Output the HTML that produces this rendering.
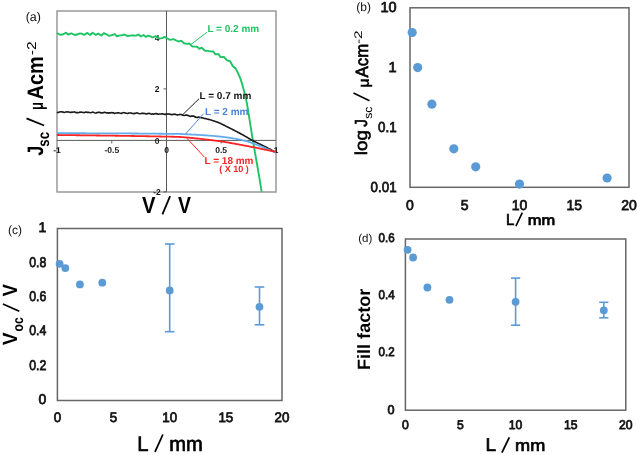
<!DOCTYPE html>
<html><head><meta charset="utf-8"><style>
html,body{margin:0;padding:0;background:#fff;width:637px;height:455px;overflow:hidden;position:relative;font-family:"Liberation Sans", sans-serif;}
</style></head><body>
<svg width="637" height="455" viewBox="0 0 637 455" style="position:absolute;left:0;top:0;filter:blur(0.3px)">
<g font-family='"Liberation Sans", sans-serif' text-rendering="geometricPrecision">
<rect x="57" y="11" width="219" height="181" fill="none" stroke="#929292" stroke-width="1.4"/>
<line x1="57" y1="140.4" x2="276" y2="140.4" stroke="#5a5a5a" stroke-width="1"/>
<line x1="166.5" y1="11" x2="166.5" y2="192" stroke="#5a5a5a" stroke-width="1"/>
<line x1="163.5" y1="37.4" x2="166.5" y2="37.4" stroke="#5a5a5a" stroke-width="1"/>
<line x1="163.5" y1="88.9" x2="166.5" y2="88.9" stroke="#5a5a5a" stroke-width="1"/>
<line x1="163.5" y1="191.9" x2="166.5" y2="191.9" stroke="#5a5a5a" stroke-width="1"/>
<line x1="111.8" y1="140.4" x2="111.8" y2="143.4" stroke="#5a5a5a" stroke-width="1"/>
<line x1="221.2" y1="140.4" x2="221.2" y2="143.4" stroke="#5a5a5a" stroke-width="1"/>
<text x="157.0" y="40.5" font-size="8.5" font-weight="bold" fill="#111" text-anchor="middle" >4</text>
<text x="157.0" y="92.0" font-size="8.5" font-weight="bold" fill="#111" text-anchor="middle" >2</text>
<text x="157.0" y="143.5" font-size="8.5" font-weight="bold" fill="#111" text-anchor="middle" >0</text>
<text x="157.0" y="195.0" font-size="8.5" font-weight="bold" fill="#111" text-anchor="middle" >-2</text>
<text x="57.0" y="153.2" font-size="8.5" font-weight="bold" fill="#111" text-anchor="middle" >-1</text>
<text x="111.8" y="153.2" font-size="8.5" font-weight="bold" fill="#111" text-anchor="middle" >-0.5</text>
<text x="166.5" y="153.2" font-size="8.5" font-weight="bold" fill="#111" text-anchor="middle" >0</text>
<text x="221.2" y="153.2" font-size="8.5" font-weight="bold" fill="#111" text-anchor="middle" >0.5</text>
<text x="276.0" y="153.2" font-size="8.5" font-weight="bold" fill="#111" text-anchor="middle" >1</text>
<path d="M57.00,33.00 L60.39,34.92 L63.27,34.22 L66.04,32.70 L68.18,34.49 L71.39,33.36 L74.86,35.00 L77.79,34.26 L79.81,33.40 L82.10,33.81 L84.14,34.89 L87.40,32.94 L90.15,34.95 L92.57,32.66 L95.83,34.89 L98.18,33.59 L101.33,35.50 L103.91,33.07 L105.91,34.03 L109.27,35.93 L111.87,35.07 L114.81,34.04 L116.94,36.24 L120.08,35.41 L122.45,35.22 L124.54,34.51 L127.38,35.94 L130.48,35.57 L133.44,35.54 L136.07,35.61 L138.48,34.49 L140.93,36.55 L143.52,34.95 L145.68,36.88 L148.06,35.58 L150.51,36.34 L152.64,37.49 L155.54,36.14 L158.98,38.43 L162.28,38.13 L164.51,36.94 L166.89,38.23 L170.00,39.86 L173.42,39.05 L176.05,40.27 L178.11,41.53 L181.17,40.80 L184.06,43.22 L187.14,43.88 L189.49,43.56 L192.41,46.63 L194.71,46.62 L197.12,46.76 L199.38,48.80 L201.58,47.68 L205.05,50.68 L207.93,50.84 L209.98,51.34 L213.35,51.52 L215.38,54.33 L218.47,54.06 L220.59,57.17 L223.94,57.00 L227.13,60.40 L230.15,61.26 L232.78,66.19 L235.64,68.37 L238.69,74.61 L238.92,75.10 L239.14,75.59 L239.37,76.08 L239.58,76.58 L239.79,77.09 L240.00,77.60 L240.17,78.04 L240.34,78.48 L240.50,78.92 L240.66,79.37 L240.81,79.82 L240.97,80.28 L241.12,80.74 L241.26,81.20 L241.41,81.67 L241.56,82.15 L241.70,82.63 L241.84,83.12 L241.99,83.61 L242.13,84.10 L242.27,84.60 L242.41,85.11 L242.56,85.62 L242.70,86.14 L242.85,86.67 L243.00,87.20 L243.13,87.65 L243.25,88.11 L243.38,88.58 L243.51,89.05 L243.64,89.53 L243.77,90.01 L243.91,90.50 L244.04,91.00 L244.17,91.50 L244.30,92.00 L244.43,92.51 L244.56,93.01 L244.69,93.52 L244.82,94.03 L244.95,94.54 L245.07,95.04 L245.20,95.55 L245.32,96.05 L245.44,96.56 L245.56,97.05 L245.67,97.55 L245.79,98.04 L245.89,98.52 L246.00,99.00 L246.11,99.50 L246.21,99.96 L246.30,100.38 L246.39,100.79 L246.46,101.17 L246.54,101.53 L246.61,101.89 L246.68,102.24 L246.75,102.60 L246.81,102.96 L246.88,103.34 L246.95,103.73 L247.02,104.15 L247.10,104.61 L247.18,105.09 L247.27,105.62 L247.37,106.20 L247.47,106.83 L247.59,107.52 L247.71,108.27 L247.85,109.10 L248.00,110.00 L248.06,110.34 L248.12,110.70 L248.18,111.06 L248.24,111.43 L248.30,111.81 L248.36,112.20 L248.43,112.59 L248.49,113.00 L248.56,113.41 L248.62,113.82 L248.69,114.25 L248.76,114.68 L248.83,115.12 L248.90,115.57 L248.98,116.02 L249.05,116.48 L249.12,116.95 L249.20,117.42 L249.28,117.90 L249.35,118.38 L249.43,118.87 L249.51,119.36 L249.59,119.86 L249.67,120.36 L249.75,120.87 L249.83,121.38 L249.91,121.89 L249.99,122.41 L250.07,122.93 L250.16,123.46 L250.24,123.99 L250.33,124.52 L250.41,125.06 L250.50,125.60 L250.58,126.14 L250.67,126.68 L250.76,127.22 L250.84,127.77 L250.93,128.32 L251.02,128.87 L251.11,129.42 L251.20,129.97 L251.28,130.53 L251.37,131.08 L251.46,131.63 L251.55,132.19 L251.64,132.74 L251.73,133.30 L251.82,133.85 L251.91,134.41 L252.00,134.96 L252.09,135.51 L252.18,136.06 L252.27,136.61 L252.36,137.16 L252.45,137.70 L252.54,138.25 L252.63,138.79 L252.72,139.33 L252.81,139.87 L252.90,140.40 L252.98,140.87 L253.06,141.34 L253.14,141.82 L253.22,142.30 L253.30,142.78 L253.39,143.27 L253.47,143.77 L253.55,144.27 L253.64,144.77 L253.73,145.28 L253.81,145.79 L253.90,146.30 L253.99,146.81 L254.08,147.33 L254.17,147.85 L254.26,148.38 L254.35,148.90 L254.44,149.43 L254.54,149.96 L254.63,150.49 L254.72,151.03 L254.81,151.56 L254.91,152.10 L255.00,152.63 L255.09,153.17 L255.19,153.71 L255.28,154.24 L255.37,154.78 L255.47,155.32 L255.56,155.86 L255.66,156.40 L255.75,156.93 L255.84,157.47 L255.94,158.00 L256.03,158.54 L256.12,159.07 L256.22,159.60 L256.31,160.13 L256.40,160.66 L256.49,161.18 L256.59,161.71 L256.68,162.23 L256.77,162.74 L256.86,163.26 L256.95,163.77 L257.04,164.28 L257.13,164.78 L257.21,165.28 L257.30,165.78 L257.39,166.27 L257.47,166.76 L257.56,167.25 L257.64,167.73 L257.72,168.20 L257.81,168.67 L257.89,169.14 L257.97,169.60 L258.05,170.05 L258.12,170.50 L258.20,170.94 L258.28,171.38 L258.35,171.81 L258.42,172.23 L258.50,172.65 L258.57,173.06 L258.64,173.46 L258.70,173.86 L258.77,174.25 L258.84,174.63 L258.90,175.00 L259.03,175.75 L259.15,176.49 L259.27,177.21 L259.39,177.91 L259.51,178.60 L259.62,179.27 L259.73,179.93 L259.84,180.57 L259.94,181.20 L260.04,181.81 L260.14,182.40 L260.24,182.99 L260.33,183.55 L260.42,184.10 L260.51,184.64 L260.59,185.16 L260.67,185.66 L260.75,186.15 L260.83,186.63 L260.91,187.09 L260.98,187.53 L261.05,187.97 L261.11,188.38 L261.18,188.78 L261.24,189.17 L261.30,189.54 L261.36,189.90 L261.41,190.24 L261.47,190.57 L261.52,190.89 L261.57,191.19 L261.61,191.47 L261.66,191.74 L261.70,192.00" fill="none" stroke="#1ec463" stroke-width="1.9" stroke-linejoin="round"/>
<path d="M57.00,112.11 L57.42,112.45 L57.86,112.38 L58.33,112.43 L58.82,112.23 L59.34,111.99 L59.87,111.94 L60.43,111.79 L61.02,111.76 L61.62,111.72 L62.24,112.11 L62.88,111.89 L63.55,112.27 L64.23,112.42 L64.92,112.31 L65.64,112.01 L66.37,111.97 L67.12,111.75 L67.89,111.92 L68.67,111.93 L69.46,112.15 L70.27,112.57 L71.09,112.38 L71.92,112.07 L72.77,112.22 L73.63,112.02 L74.50,111.89 L75.38,112.22 L76.27,112.73 L77.17,112.42 L78.07,112.70 L78.99,112.42 L79.91,112.03 L80.84,112.25 L81.78,112.15 L82.72,112.40 L83.67,112.53 L84.62,112.66 L85.58,112.14 L86.54,111.98 L87.50,112.53 L88.46,112.39 L89.43,112.54 L90.40,112.71 L91.36,112.53 L92.33,112.15 L93.30,112.19 L94.26,112.63 L95.23,112.98 L96.19,112.97 L97.15,112.52 L98.10,112.35 L99.05,112.39 L100.00,112.42 L100.71,112.93 L101.43,112.91 L102.17,113.00 L102.91,112.73 L103.67,112.59 L104.43,112.20 L105.21,112.47 L105.99,112.64 L106.79,113.03 L107.59,112.84 L108.40,113.11 L109.22,112.86 L110.05,113.10 L110.88,112.76 L111.72,112.59 L112.57,112.85 L113.42,112.77 L114.28,113.33 L115.15,113.24 L116.01,113.04 L116.89,112.97 L117.76,112.71 L118.64,112.86 L119.52,113.08 L120.41,113.26 L121.30,113.48 L122.19,112.98 L123.08,112.63 L123.97,112.75 L124.86,112.79 L125.75,113.18 L126.65,113.23 L127.54,113.46 L128.43,113.14 L129.32,113.03 L130.21,113.04 L131.09,112.85 L131.97,113.46 L132.85,113.45 L133.73,113.76 L134.60,113.27 L135.47,113.35 L136.34,112.91 L137.19,112.98 L138.05,113.24 L138.89,113.51 L139.74,113.72 L140.57,113.59 L141.40,113.42 L142.22,113.34 L143.03,113.24 L143.83,113.36 L144.63,113.57 L145.42,113.66 L146.19,113.97 L146.96,113.91 L147.72,113.54 L148.46,113.55 L149.20,113.29 L149.92,113.47 L150.63,113.86 L151.33,114.21 L152.02,113.89 L152.69,113.96 L153.35,114.23 L153.99,113.86 L154.63,113.83 L155.24,113.70 L155.84,113.49 L156.43,113.93 L157.00,113.67 L158.38,114.26 L159.69,114.02 L160.92,114.02 L162.08,113.74 L163.17,114.01 L164.20,114.13 L165.18,114.54 L166.10,113.92 L166.97,114.20 L167.79,113.91 L168.58,114.06 L169.33,114.10 L170.04,114.34 L170.73,114.35 L171.40,114.44 L172.04,114.62 L172.67,114.40 L173.29,114.40 L173.90,114.29 L174.51,114.13 L175.12,114.41 L175.74,114.37 L176.36,114.75 L177.00,114.83 L177.66,114.89 L178.35,114.78 L179.06,114.82 L179.80,114.41 L180.68,114.51 L181.56,114.66 L182.44,114.89 L183.31,115.25 L184.17,115.58 L185.03,115.32 L185.89,115.02 L186.74,115.15 L187.58,115.35 L188.42,115.56 L189.25,116.13 L190.08,116.34 L190.90,116.38 L191.72,116.01 L192.53,116.14 L193.33,116.11 L194.13,116.25 L194.91,116.87 L195.70,117.13 L196.47,117.35 L197.24,117.18 L198.00,117.36 L198.75,117.10 L199.50,117.25 L200.38,117.57 L201.25,117.73 L202.11,117.90 L202.96,118.07 L203.79,118.25 L204.62,118.42 L205.43,118.60 L206.23,118.78 L207.03,118.97 L207.82,119.16 L208.60,119.36 L209.37,119.56 L210.14,119.77 L210.90,119.98 L211.66,120.20 L212.42,120.42 L213.17,120.66 L213.91,120.90 L214.66,121.14 L215.40,121.40 L216.18,121.68 L216.94,121.97 L217.70,122.27 L218.44,122.58 L219.18,122.89 L219.91,123.22 L220.64,123.55 L221.36,123.88 L222.07,124.23 L222.79,124.57 L223.50,124.93 L224.21,125.28 L224.91,125.64 L225.62,126.00 L226.33,126.36 L227.04,126.72 L227.76,127.08 L228.48,127.44 L229.20,127.80 L229.93,128.16 L230.67,128.53 L231.42,128.91 L232.17,129.29 L232.93,129.68 L233.69,130.07 L234.45,130.46 L235.21,130.85 L235.97,131.25 L236.72,131.64 L237.46,132.03 L238.20,132.42 L238.93,132.81 L239.65,133.19 L240.35,133.57 L241.04,133.94 L241.71,134.30 L242.37,134.66 L243.00,135.00 L243.82,135.45 L244.60,135.89 L245.34,136.32 L246.05,136.73 L246.74,137.14 L247.41,137.54 L248.07,137.94 L248.72,138.33 L249.38,138.72 L250.04,139.11 L250.72,139.50 L251.41,139.89 L252.14,140.29 L252.90,140.70 L253.59,141.06 L254.30,141.42 L255.02,141.78 L255.76,142.15 L256.50,142.51 L257.26,142.87 L258.02,143.24 L258.79,143.60 L259.56,143.96 L260.32,144.33 L261.09,144.69 L261.85,145.05 L262.60,145.42 L263.35,145.78 L264.08,146.14 L264.80,146.50 L265.58,146.89 L266.39,147.31 L267.22,147.74 L268.06,148.18 L268.91,148.62 L269.76,149.06 L270.59,149.50 L271.39,149.92 L272.17,150.34 L272.91,150.73 L273.60,151.09 L274.23,151.43 L274.80,151.73 L275.29,151.99 L275.70,152.20" fill="none" stroke="#1a1a1a" stroke-width="1.6" stroke-linejoin="round"/>
<path d="M57.00,133.20 L57.52,133.20 L58.07,133.20 L58.66,133.20 L59.28,133.21 L59.93,133.21 L60.62,133.21 L61.33,133.21 L62.08,133.21 L62.85,133.22 L63.65,133.22 L64.48,133.22 L65.33,133.22 L66.21,133.22 L67.11,133.23 L68.03,133.23 L68.98,133.23 L69.95,133.23 L70.93,133.24 L71.94,133.24 L72.96,133.24 L74.00,133.24 L75.06,133.25 L76.13,133.25 L77.21,133.25 L78.31,133.26 L79.42,133.26 L80.54,133.26 L81.67,133.26 L82.81,133.27 L83.95,133.27 L85.11,133.27 L86.27,133.28 L87.43,133.28 L88.60,133.28 L89.78,133.29 L90.95,133.29 L92.13,133.29 L93.31,133.30 L94.48,133.30 L95.66,133.30 L96.83,133.31 L98.00,133.31 L99.16,133.31 L100.32,133.32 L101.48,133.32 L102.62,133.33 L103.76,133.33 L104.88,133.33 L106.00,133.34 L107.11,133.34 L108.20,133.35 L109.28,133.35 L110.34,133.35 L111.39,133.36 L112.43,133.36 L113.44,133.37 L114.44,133.37 L115.42,133.38 L116.38,133.38 L117.32,133.39 L118.24,133.39 L119.13,133.40 L120.00,133.40 L121.20,133.41 L122.39,133.41 L123.57,133.42 L124.75,133.43 L125.92,133.44 L127.09,133.44 L128.25,133.45 L129.40,133.46 L130.54,133.47 L131.68,133.48 L132.80,133.48 L133.92,133.49 L135.04,133.50 L136.14,133.51 L137.23,133.52 L138.32,133.53 L139.40,133.54 L140.46,133.55 L141.52,133.55 L142.57,133.56 L143.61,133.57 L144.63,133.58 L145.65,133.59 L146.66,133.60 L147.65,133.61 L148.64,133.62 L149.61,133.63 L150.58,133.64 L151.53,133.65 L152.47,133.66 L153.39,133.67 L154.31,133.68 L155.21,133.69 L156.10,133.70 L156.98,133.71 L157.84,133.72 L158.69,133.73 L159.53,133.74 L160.36,133.75 L161.17,133.75 L161.96,133.76 L162.74,133.77 L163.51,133.78 L164.26,133.79 L165.00,133.80 L166.57,133.82 L168.00,133.83 L169.30,133.84 L170.49,133.85 L171.58,133.86 L172.59,133.86 L173.53,133.86 L174.41,133.87 L175.25,133.87 L176.06,133.88 L176.86,133.89 L177.66,133.90 L178.47,133.92 L179.31,133.94 L180.19,133.97 L181.12,134.00 L182.13,134.04 L183.22,134.08 L184.40,134.14 L185.70,134.20 L186.54,134.24 L187.41,134.29 L188.31,134.33 L189.23,134.38 L190.18,134.43 L191.16,134.48 L192.15,134.54 L193.17,134.59 L194.20,134.65 L195.25,134.71 L196.31,134.77 L197.38,134.83 L198.47,134.90 L199.56,134.96 L200.66,135.03 L201.76,135.10 L202.86,135.17 L203.97,135.25 L205.07,135.32 L206.17,135.40 L207.27,135.47 L208.36,135.55 L209.43,135.63 L210.50,135.71 L211.56,135.80 L212.60,135.88 L213.62,135.96 L214.62,136.05 L215.61,136.14 L216.57,136.23 L217.51,136.32 L218.42,136.41 L219.30,136.50 L220.48,136.63 L221.65,136.76 L222.79,136.89 L223.91,137.03 L225.02,137.17 L226.10,137.31 L227.17,137.45 L228.22,137.60 L229.26,137.75 L230.27,137.90 L231.27,138.06 L232.26,138.21 L233.23,138.37 L234.18,138.53 L235.12,138.70 L236.04,138.87 L236.96,139.04 L237.86,139.21 L238.74,139.38 L239.62,139.56 L240.48,139.74 L241.33,139.93 L242.17,140.11 L243.00,140.30 L244.21,140.59 L245.35,140.88 L246.45,141.18 L247.50,141.48 L248.51,141.79 L249.49,142.10 L250.45,142.42 L251.38,142.75 L252.30,143.08 L253.21,143.42 L254.13,143.77 L255.04,144.12 L255.97,144.48 L256.92,144.85 L257.90,145.22 L258.90,145.60 L259.84,145.96 L260.82,146.34 L261.84,146.75 L262.90,147.18 L263.97,147.62 L265.06,148.07 L266.14,148.52 L267.23,148.98 L268.29,149.43 L269.34,149.88 L270.35,150.31 L271.31,150.72 L272.23,151.12 L273.08,151.48 L273.86,151.82 L274.57,152.12 L275.18,152.38 L275.70,152.60" fill="none" stroke="#62acec" stroke-width="1.8"/>
<path d="M57.00,135.00 L57.52,135.01 L58.07,135.01 L58.66,135.02 L59.28,135.03 L59.93,135.04 L60.62,135.05 L61.33,135.05 L62.08,135.06 L62.85,135.07 L63.65,135.08 L64.48,135.09 L65.33,135.10 L66.21,135.11 L67.11,135.12 L68.03,135.14 L68.98,135.15 L69.95,135.16 L70.93,135.17 L71.94,135.18 L72.96,135.19 L74.00,135.21 L75.06,135.22 L76.13,135.23 L77.21,135.25 L78.31,135.26 L79.42,135.27 L80.54,135.29 L81.67,135.30 L82.81,135.31 L83.95,135.33 L85.11,135.34 L86.27,135.36 L87.43,135.37 L88.60,135.39 L89.78,135.40 L90.95,135.42 L92.13,135.43 L93.31,135.44 L94.48,135.46 L95.66,135.47 L96.83,135.49 L98.00,135.50 L99.16,135.52 L100.32,135.53 L101.48,135.55 L102.62,135.56 L103.76,135.58 L104.88,135.59 L106.00,135.61 L107.11,135.62 L108.20,135.64 L109.28,135.65 L110.34,135.66 L111.39,135.68 L112.43,135.69 L113.44,135.71 L114.44,135.72 L115.42,135.73 L116.38,135.75 L117.32,135.76 L118.24,135.77 L119.13,135.79 L120.00,135.80 L121.20,135.82 L122.39,135.84 L123.57,135.85 L124.75,135.87 L125.92,135.89 L127.09,135.91 L128.25,135.92 L129.40,135.94 L130.54,135.96 L131.68,135.98 L132.80,136.00 L133.92,136.01 L135.04,136.03 L136.14,136.05 L137.23,136.07 L138.32,136.08 L139.40,136.10 L140.46,136.12 L141.52,136.14 L142.57,136.16 L143.61,136.17 L144.63,136.19 L145.65,136.21 L146.66,136.23 L147.65,136.24 L148.64,136.26 L149.61,136.28 L150.58,136.30 L151.53,136.32 L152.47,136.33 L153.39,136.35 L154.31,136.37 L155.21,136.39 L156.10,136.40 L156.98,136.42 L157.84,136.44 L158.69,136.46 L159.53,136.48 L160.36,136.49 L161.17,136.51 L161.96,136.53 L162.74,136.55 L163.51,136.56 L164.26,136.58 L165.00,136.60 L166.57,136.64 L168.00,136.67 L169.30,136.69 L170.49,136.71 L171.58,136.73 L172.59,136.75 L173.53,136.76 L174.41,136.78 L175.25,136.79 L176.06,136.81 L176.86,136.84 L177.66,136.86 L178.47,136.90 L179.31,136.94 L180.19,136.99 L181.12,137.05 L182.13,137.12 L183.22,137.20 L184.40,137.29 L185.70,137.40 L186.54,137.47 L187.40,137.55 L188.28,137.63 L189.19,137.71 L190.13,137.80 L191.08,137.89 L192.05,137.98 L193.03,138.08 L194.04,138.18 L195.06,138.29 L196.09,138.39 L197.13,138.50 L198.19,138.61 L199.25,138.73 L200.32,138.85 L201.40,138.96 L202.48,139.09 L203.56,139.21 L204.65,139.33 L205.74,139.46 L206.83,139.59 L207.91,139.72 L208.99,139.85 L210.07,139.98 L211.14,140.11 L212.20,140.25 L213.25,140.38 L214.30,140.52 L215.33,140.65 L216.34,140.79 L217.35,140.93 L218.33,141.06 L219.30,141.20 L220.35,141.35 L221.40,141.51 L222.44,141.66 L223.48,141.82 L224.51,141.98 L225.54,142.15 L226.56,142.31 L227.58,142.48 L228.59,142.65 L229.60,142.82 L230.60,143.00 L231.60,143.17 L232.60,143.35 L233.59,143.52 L234.58,143.70 L235.57,143.88 L236.55,144.06 L237.52,144.24 L238.50,144.42 L239.47,144.60 L240.43,144.78 L241.40,144.96 L242.36,145.14 L243.31,145.32 L244.27,145.51 L245.22,145.69 L246.17,145.87 L247.12,146.04 L248.06,146.22 L249.00,146.40 L250.06,146.60 L251.14,146.81 L252.24,147.02 L253.37,147.24 L254.50,147.46 L255.65,147.69 L256.80,147.92 L257.96,148.15 L259.11,148.39 L260.26,148.62 L261.41,148.85 L262.54,149.08 L263.65,149.31 L264.75,149.54 L265.83,149.76 L266.88,149.98 L267.90,150.19 L268.89,150.39 L269.84,150.59 L270.75,150.78 L271.62,150.96 L272.44,151.13 L273.21,151.29 L273.92,151.44 L274.58,151.57 L275.17,151.69 L275.70,151.80" fill="none" stroke="#fa2424" stroke-width="1.8"/>
<line x1="190.6" y1="44.7" x2="206.9" y2="32.3" stroke="#1ec463" stroke-width="1"/>
<text x="207.4" y="31.8" font-size="10" font-weight="bold" fill="#1ec463" text-anchor="start" >L = 0.2 mm</text>
<line x1="182.7" y1="114.7" x2="199" y2="98.8" stroke="#1a1a1a" stroke-width="1"/>
<text x="199.5" y="99.0" font-size="10" font-weight="bold" fill="#111" text-anchor="start" >L = 0.7 mm</text>
<line x1="185.7" y1="133.8" x2="203.5" y2="113.7" stroke="#4a86dc" stroke-width="1"/>
<text x="205.0" y="115.4" font-size="10" font-weight="bold" fill="#4a80d8" text-anchor="start" >L = 2 mm</text>
<line x1="186.7" y1="138" x2="204.5" y2="157.2" stroke="#fa2424" stroke-width="1"/>
<text x="204.5" y="164.2" font-size="10" font-weight="bold" fill="#fa2424" text-anchor="start" >L = 18 mm</text>
<text x="234.0" y="172.3" font-size="9" font-weight="bold" fill="#fa2424" text-anchor="middle" >( X 10 )</text>
<text x="33.3" y="21.4" font-size="12.5" font-weight="normal" fill="#111" text-anchor="middle" >(a)</text>
<text transform="translate(141.96,212.90) scale(0.874,1)" font-size="23.11" font-weight="bold" fill="#000">V</text>
<line x1="162.4" y1="214.3" x2="170.1" y2="196.1" stroke="#000" stroke-width="1.8"/>
<text transform="translate(177.97,212.90) scale(0.841,1)" font-size="23.11" font-weight="bold" fill="#000">V</text>
<text transform="translate(43.08,155.67) rotate(-90) scale(0.804,1)" font-size="22.36" font-weight="bold" fill="#000">J</text>
<text transform="translate(48.55,146.67) rotate(-90) scale(0.836,1)" font-size="15.87" font-weight="bold" fill="#000">sc</text>
<line x1="44.1" y1="125.5" x2="26.5" y2="118.4" stroke="#000" stroke-width="1.8"/>
<text transform="translate(43.11,110.12) rotate(-90) scale(0.682,1)" font-size="19.14" font-weight="bold" fill="#000">μ</text>
<text transform="translate(43.08,99.50) rotate(-90) scale(0.892,1)" font-size="22.36" font-weight="bold" fill="#000">Acm</text>
<text transform="translate(36.00,55.19) rotate(-90) scale(1.201,1)" font-size="12.89" font-weight="normal" fill="#000">-2</text>
<rect x="410" y="7.8" width="219" height="179.5" fill="none" stroke="#666" stroke-width="1.5"/>
<text transform="translate(396.60,12.00) scale(1.000,1)" font-size="14.50" font-weight="normal" fill="#111" text-anchor="end" stroke="#111" stroke-width="0.75">10</text>
<text transform="translate(396.60,72.00) scale(1.000,1)" font-size="14.50" font-weight="normal" fill="#111" text-anchor="end" stroke="#111" stroke-width="0.75">1</text>
<text transform="translate(396.60,132.00) scale(0.920,1)" font-size="14.50" font-weight="normal" fill="#111" text-anchor="end" stroke="#111" stroke-width="0.75">0.1</text>
<text transform="translate(396.60,192.00) scale(0.920,1)" font-size="14.50" font-weight="normal" fill="#111" text-anchor="end" stroke="#111" stroke-width="0.75">0.01</text>
<text transform="translate(410.00,210.00) scale(0.980,1)" font-size="14.30" font-weight="normal" fill="#111" text-anchor="middle" stroke="#111" stroke-width="0.75">0</text>
<text transform="translate(464.75,210.00) scale(0.980,1)" font-size="14.30" font-weight="normal" fill="#111" text-anchor="middle" stroke="#111" stroke-width="0.75">5</text>
<text transform="translate(519.50,210.00) scale(0.980,1)" font-size="14.30" font-weight="normal" fill="#111" text-anchor="middle" stroke="#111" stroke-width="0.75">10</text>
<text transform="translate(574.25,210.00) scale(0.980,1)" font-size="14.30" font-weight="normal" fill="#111" text-anchor="middle" stroke="#111" stroke-width="0.75">15</text>
<text transform="translate(629.00,210.00) scale(0.980,1)" font-size="14.30" font-weight="normal" fill="#111" text-anchor="middle" stroke="#111" stroke-width="0.75">20</text>
<circle cx="412.2" cy="32.6" r="4.6" fill="#5b9bd5"/>
<circle cx="417.7" cy="67.6" r="4.6" fill="#5b9bd5"/>
<circle cx="431.9" cy="104.2" r="4.6" fill="#5b9bd5"/>
<circle cx="453.8" cy="148.8" r="4.6" fill="#5b9bd5"/>
<circle cx="475.7" cy="166.8" r="4.6" fill="#5b9bd5"/>
<circle cx="519.5" cy="184.1" r="4.6" fill="#5b9bd5"/>
<circle cx="607.1" cy="178.0" r="4.6" fill="#5b9bd5"/>
<text x="363.6" y="10.5" font-size="12" font-weight="normal" fill="#111" text-anchor="middle" >(b)</text>
<text transform="translate(506.12,224.75) scale(0.954,1)" font-size="15.70" font-weight="normal" fill="#000" stroke="#000" stroke-width="0.7">L</text>
<line x1="515.9" y1="226.2" x2="522.3" y2="212.6" stroke="#000" stroke-width="1.6"/>
<text transform="translate(527.65,224.75) scale(1.153,1)" font-size="14.31" font-weight="normal" fill="#000" stroke="#000" stroke-width="0.7">mm</text>
<text transform="translate(367.46,155.18) rotate(-90) scale(1.111,1)" font-size="17.06" font-weight="normal" fill="#000" stroke="#000" stroke-width="0.6">log</text>
<text transform="translate(367.13,126.64) rotate(-90) scale(0.865,1)" font-size="17.48" font-weight="normal" fill="#000" stroke="#000" stroke-width="0.6">J</text>
<text transform="translate(371.59,118.74) rotate(-90) scale(1.057,1)" font-size="11.50" font-weight="normal" fill="#000">sc</text>
<line x1="369.5" y1="100.8" x2="353.5" y2="93.0" stroke="#000" stroke-width="1.6"/>
<text transform="translate(368.71,88.04) rotate(-90) scale(1.031,1)" font-size="15.72" font-weight="bold" fill="#000">μ</text>
<text transform="translate(368.13,77.43) rotate(-90) scale(0.944,1)" font-size="17.77" font-weight="normal" fill="#000" stroke="#000" stroke-width="0.7">Acm</text>
<text transform="translate(362.30,44.09) rotate(-90) scale(1.404,1)" font-size="11.03" font-weight="normal" fill="#000">-2</text>
<rect x="57.4" y="228.5" width="224.6" height="172.0" fill="none" stroke="#666" stroke-width="1.5"/>
<text transform="translate(46.40,404.00) scale(1.000,1)" font-size="14.00" font-weight="normal" fill="#111" text-anchor="end" stroke="#111" stroke-width="0.75">0</text>
<text transform="translate(46.40,370.00) scale(0.880,1)" font-size="14.00" font-weight="normal" fill="#111" text-anchor="end" stroke="#111" stroke-width="0.75">0.2</text>
<text transform="translate(46.40,335.00) scale(0.880,1)" font-size="14.00" font-weight="normal" fill="#111" text-anchor="end" stroke="#111" stroke-width="0.75">0.4</text>
<text transform="translate(46.40,301.00) scale(0.880,1)" font-size="14.00" font-weight="normal" fill="#111" text-anchor="end" stroke="#111" stroke-width="0.75">0.6</text>
<text transform="translate(46.40,267.00) scale(0.880,1)" font-size="14.00" font-weight="normal" fill="#111" text-anchor="end" stroke="#111" stroke-width="0.75">0.8</text>
<text transform="translate(46.40,232.00) scale(1.000,1)" font-size="14.00" font-weight="normal" fill="#111" text-anchor="end" stroke="#111" stroke-width="0.75">1</text>
<text transform="translate(57.40,422.00) scale(0.970,1)" font-size="13.80" font-weight="normal" fill="#111" text-anchor="middle" stroke="#111" stroke-width="0.75">0</text>
<text transform="translate(113.55,422.00) scale(0.970,1)" font-size="13.80" font-weight="normal" fill="#111" text-anchor="middle" stroke="#111" stroke-width="0.75">5</text>
<text transform="translate(169.70,422.00) scale(0.970,1)" font-size="13.80" font-weight="normal" fill="#111" text-anchor="middle" stroke="#111" stroke-width="0.75">10</text>
<text transform="translate(225.85,422.00) scale(0.970,1)" font-size="13.80" font-weight="normal" fill="#111" text-anchor="middle" stroke="#111" stroke-width="0.75">15</text>
<text transform="translate(282.00,422.00) scale(0.970,1)" font-size="13.80" font-weight="normal" fill="#111" text-anchor="middle" stroke="#111" stroke-width="0.75">20</text>
<line x1="169.7" y1="244.0" x2="169.7" y2="331.7" stroke="#5b9bd5" stroke-width="1.6"/>
<line x1="164.9" y1="244.0" x2="174.5" y2="244.0" stroke="#5b9bd5" stroke-width="1.6"/>
<line x1="164.9" y1="331.7" x2="174.5" y2="331.7" stroke="#5b9bd5" stroke-width="1.6"/>
<line x1="259.5" y1="287.0" x2="259.5" y2="324.8" stroke="#5b9bd5" stroke-width="1.6"/>
<line x1="254.7" y1="287.0" x2="264.3" y2="287.0" stroke="#5b9bd5" stroke-width="1.6"/>
<line x1="254.7" y1="324.8" x2="264.3" y2="324.8" stroke="#5b9bd5" stroke-width="1.6"/>
<circle cx="59.6" cy="263.8" r="3.9" fill="#5b9bd5"/>
<circle cx="65.3" cy="268.1" r="3.9" fill="#5b9bd5"/>
<circle cx="79.9" cy="284.4" r="3.9" fill="#5b9bd5"/>
<circle cx="102.3" cy="282.7" r="3.9" fill="#5b9bd5"/>
<circle cx="169.7" cy="290.4" r="3.9" fill="#5b9bd5"/>
<circle cx="259.5" cy="306.8" r="3.9" fill="#5b9bd5"/>
<text x="15.1" y="234.1" font-size="12" font-weight="normal" fill="#111" text-anchor="middle" >(c)</text>
<text transform="translate(137.19,450.55) scale(0.958,1)" font-size="21.08" font-weight="normal" fill="#000" stroke="#000" stroke-width="0.7">L</text>
<line x1="155.0" y1="451.9" x2="162.9" y2="434.5" stroke="#000" stroke-width="1.8"/>
<text transform="translate(169.21,450.55) scale(0.968,1)" font-size="20.81" font-weight="normal" fill="#000" stroke="#000" stroke-width="0.7">mm</text>
<text transform="translate(17.40,345.33) rotate(-90) scale(0.934,1)" font-size="20.64" font-weight="bold" fill="#000">V</text>
<text transform="translate(22.86,331.48) rotate(-90) scale(0.835,1)" font-size="14.60" font-weight="bold" fill="#000">oc</text>
<line x1="19.3" y1="311.3" x2="2.9" y2="304.0" stroke="#000" stroke-width="1.8"/>
<text transform="translate(17.40,296.32) rotate(-90) scale(0.882,1)" font-size="20.64" font-weight="bold" fill="#000">V</text>
<rect x="405.4" y="239" width="220.39999999999998" height="171.2" fill="none" stroke="#666" stroke-width="1.5"/>
<text transform="translate(394.60,414.00) scale(1.000,1)" font-size="12.60" font-weight="normal" fill="#111" text-anchor="end" stroke="#111" stroke-width="0.75">0</text>
<text transform="translate(394.60,356.00) scale(0.920,1)" font-size="12.60" font-weight="normal" fill="#111" text-anchor="end" stroke="#111" stroke-width="0.75">0.2</text>
<text transform="translate(394.60,299.00) scale(0.920,1)" font-size="12.60" font-weight="normal" fill="#111" text-anchor="end" stroke="#111" stroke-width="0.75">0.4</text>
<text transform="translate(394.60,242.00) scale(0.920,1)" font-size="12.60" font-weight="normal" fill="#111" text-anchor="end" stroke="#111" stroke-width="0.75">0.6</text>
<text transform="translate(405.40,429.00) scale(0.970,1)" font-size="12.60" font-weight="normal" fill="#111" text-anchor="middle" stroke="#111" stroke-width="0.75">0</text>
<text transform="translate(460.50,429.00) scale(0.970,1)" font-size="12.60" font-weight="normal" fill="#111" text-anchor="middle" stroke="#111" stroke-width="0.75">5</text>
<text transform="translate(515.60,429.00) scale(0.970,1)" font-size="12.60" font-weight="normal" fill="#111" text-anchor="middle" stroke="#111" stroke-width="0.75">10</text>
<text transform="translate(570.70,429.00) scale(0.970,1)" font-size="12.60" font-weight="normal" fill="#111" text-anchor="middle" stroke="#111" stroke-width="0.75">15</text>
<text transform="translate(625.80,429.00) scale(0.970,1)" font-size="12.60" font-weight="normal" fill="#111" text-anchor="middle" stroke="#111" stroke-width="0.75">20</text>
<line x1="515.6" y1="278.1" x2="515.6" y2="325.2" stroke="#5b9bd5" stroke-width="1.6"/>
<line x1="511.0" y1="278.1" x2="520.2" y2="278.1" stroke="#5b9bd5" stroke-width="1.6"/>
<line x1="511.0" y1="325.2" x2="520.2" y2="325.2" stroke="#5b9bd5" stroke-width="1.6"/>
<line x1="603.8" y1="302.3" x2="603.8" y2="317.8" stroke="#5b9bd5" stroke-width="1.6"/>
<line x1="599.2" y1="302.3" x2="608.4" y2="302.3" stroke="#5b9bd5" stroke-width="1.6"/>
<line x1="599.2" y1="317.8" x2="608.4" y2="317.8" stroke="#5b9bd5" stroke-width="1.6"/>
<circle cx="407.6" cy="249.8" r="3.9" fill="#5b9bd5"/>
<circle cx="413.1" cy="257.5" r="3.9" fill="#5b9bd5"/>
<circle cx="427.4" cy="287.5" r="3.9" fill="#5b9bd5"/>
<circle cx="449.5" cy="299.8" r="3.9" fill="#5b9bd5"/>
<circle cx="515.6" cy="301.8" r="3.9" fill="#5b9bd5"/>
<circle cx="603.8" cy="310.3" r="3.9" fill="#5b9bd5"/>
<text x="365.2" y="241.5" font-size="11.5" font-weight="normal" fill="#111" text-anchor="middle" >(d)</text>
<text transform="translate(485.59,451.35) scale(1.040,1)" font-size="18.31" font-weight="normal" fill="#000" stroke="#000" stroke-width="0.7">L</text>
<line x1="501.9" y1="452.6" x2="509.3" y2="437.3" stroke="#000" stroke-width="1.8"/>
<text transform="translate(515.05,451.35) scale(1.096,1)" font-size="16.54" font-weight="normal" fill="#000" stroke="#000" stroke-width="0.7">mm</text>
<text transform="translate(369.83,370.01) rotate(-90) scale(1.014,1)" font-size="17.84" font-weight="bold" fill="#000">Fill factor</text>
</g></svg>
</body></html>
